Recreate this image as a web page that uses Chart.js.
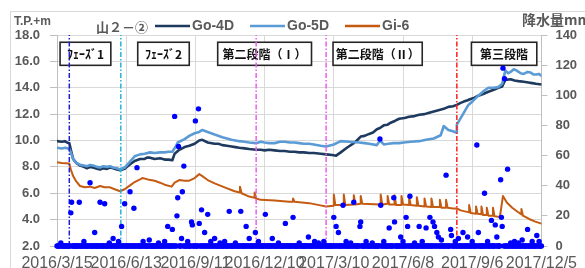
<!DOCTYPE html>
<html><head><meta charset="utf-8">
<script src="https://cdn.jsdelivr.net/npm/chart.js@4"></script>
<style>html,body{margin:0;padding:0;background:#fff;overflow:hidden}</style>
</head><body>
<canvas id="c" width="585" height="268"></canvas>
<script>
// x values are days counted from 2016/3/15
const xTickLabels = ['2016/3/15','2016/6/13','2016/9/11','2016/12/10','2017/3/10','2017/6/8','2017/9/6','2017/12/5'];
const seriesNames = ['Go-4D','Go-5D','Gi-6'];

const go4d = [[0,9.95],[6,9.9],[10,9.95],[13,9.85],[16,9.8],[18,9.3],[21,8.6],[25,8.3],[30,8.1],[35,8.0],[39,7.9],[43,8.0],[47,7.95],[52,7.85],[56,7.8],[60,7.9],[65,7.85],[69,7.95],[73,7.9],[78,7.8],[82,7.75],[88,7.85],[95,8.2],[101,8.45],[108,8.6],[114,8.6],[117,8.7],[121,8.7],[127,8.6],[134,8.65],[140,8.55],[145,8.55],[150,8.5],[153,9.0],[159,9.3],[166,9.5],[172,9.6],[179,9.75],[185,10.0],[189,10.05],[196,9.85],[205,9.75],[210,9.75],[215,9.65],[221,9.6],[227,9.55],[232,9.5],[237,9.45],[244,9.4],[250,9.35],[259,9.3],[265,9.3],[270,9.25],[276,9.3],[283,9.25],[290,9.2],[296,9.2],[303,9.15],[309,9.15],[315,9.1],[321,9.1],[328,9.05],[334,9.05],[343,9.0],[350,8.95],[358,8.9],[363,8.85],[369,9.1],[377,9.45],[386,9.8],[390,10.0],[395,10.3],[400,10.35],[406,10.5],[411,10.6],[416,10.85],[420,10.95],[425,11.15],[430,11.2],[434,11.35],[440,11.5],[445,11.65],[452,11.7],[458,11.8],[465,11.85],[471,11.95],[478,12.0],[484,12.1],[490,12.2],[496,12.3],[503,12.4],[509,12.55],[515,12.6],[520,12.7],[525,12.85],[529,12.95],[534,13.05],[538,13.15],[543,13.25],[548,13.4],[555,13.55],[561,13.7],[568,13.85],[574,14.0],[579,14.1],[583,14.6],[590,14.65],[595,14.55],[600,14.5],[607,14.45],[613,14.4],[618,14.35],[623,14.3],[630,14.25]];

const go5d = [[0,9.45],[6,9.4],[11,9.45],[16,9.35],[18,9.1],[21,8.6],[25,8.3],[30,8.15],[35,8.1],[39,8.05],[43,8.15],[47,8.1],[52,8.0],[56,7.95],[60,8.05],[65,8.0],[69,8.05],[73,7.95],[78,7.9],[82,7.8],[88,7.95],[95,8.4],[101,8.8],[108,8.95],[114,9.0],[121,9.1],[127,9.05],[134,9.1],[140,9.1],[145,9.15],[150,9.15],[154,9.5],[157,9.85],[166,10.1],[172,10.35],[179,10.55],[185,10.65],[189,10.8],[196,10.65],[205,10.45],[215,10.25],[221,10.15],[227,10.05],[237,9.95],[244,9.9],[250,9.85],[259,9.8],[265,9.9],[270,9.85],[276,9.8],[283,9.8],[290,9.9],[296,9.9],[303,9.85],[309,9.85],[315,9.8],[321,9.75],[328,9.75],[334,9.7],[343,9.6],[350,9.55],[360,9.7],[369,9.95],[380,9.9],[393,9.85],[400,9.8],[406,9.75],[416,9.65],[420,10.0],[425,9.7],[431,9.75],[438,9.8],[445,9.8],[451,9.85],[460,9.9],[471,9.95],[480,10.05],[490,10.15],[499,10.4],[503,11.1],[509,10.8],[515,10.7],[519,10.6],[520,11.2],[529,12.1],[535,12.7],[541,13.0],[548,13.4],[555,13.75],[561,14.0],[568,14.0],[574,14.05],[579,14.3],[583,15.3],[587,15.1],[590,15.2],[594,15.4],[598,15.3],[603,15.1],[607,15.05],[612,15.2],[616,15.15],[620,15.0],[623,15.0],[627,15.05],[630,14.9]];

const gi6 = [[0,8.35],[6,8.3],[16,8.25],[18,7.8],[21,7.3],[25,6.9],[30,6.55],[36,6.45],[43,6.5],[49,6.4],[56,6.55],[62,6.45],[69,6.45],[75,6.3],[82,6.15],[88,6.3],[95,6.6],[101,6.85],[108,7.05],[111,7.15],[118,7.05],[127,6.95],[134,6.8],[140,6.65],[149,6.5],[153,6.8],[159,7.0],[166,6.95],[172,6.95],[179,7.15],[185,7.45],[189,7.3],[196,7.0],[205,6.75],[218,6.45],[231,6.15],[238,6.05],[238,6.5],[240,6.0],[250,5.75],[257,5.65],[257,6.05],[259,5.6],[265,5.5],[283,5.45],[302,5.35],[307,5.35],[307,5.6],[309,5.35],[328,5.25],[341,5.1],[350,5.0],[360,5.05],[360,5.9],[362,5.1],[373,5.1],[373,5.9],[375,5.1],[386,5.15],[386,5.85],[388,5.15],[395,5.2],[395,5.8],[397,5.2],[421,5.15],[421,5.9],[423,5.15],[430,5.2],[430,5.8],[432,5.15],[439,5.15],[439,5.85],[441,5.1],[448,5.1],[448,5.8],[450,5.15],[458,5.1],[458,5.7],[460,5.1],[468,5.05],[468,5.7],[470,5.05],[478,5.0],[478,5.6],[480,5.0],[487,4.95],[487,5.6],[489,4.95],[498,4.95],[498,5.5],[500,4.9],[506,4.9],[506,5.5],[508,4.9],[515,4.85],[520,4.85],[525,4.7],[536,4.55],[536,5.1],[538,4.5],[545,4.45],[545,5.0],[547,4.45],[552,4.4],[552,5.0],[554,4.35],[559,4.35],[559,4.9],[561,4.3],[567,4.3],[567,4.9],[569,4.25],[576,4.2],[580,5.8],[585,5.3],[592,4.9],[599,4.6],[604,4.4],[604,4.8],[606,4.3],[614,4.05],[622,3.85],[630,3.7]];

// rain days with measurable precipitation [day, mm]; every other day of the record is 0 mm
const rainEvents = [[5,2],[18,22],[19,29],[29,29],[35,3],[43,42],[49,9],[56,29],[62,28],[68,2],[73,5],[80,3],[84,13],[88,28],[95,36],[100,25],[104,52],[112,3],[120,4],[132,2],[140,3],[144,13],[150,11],[153,86],[156,20],[157,32],[158,66],[162,5],[163,36],[165,53],[170,3],[175,16],[176,14],[180,83],[184,91],[185,15],[188,24],[192,9],[196,21],[200,3],[205,5],[212,2],[218,3],[224,23],[232,2],[239,23],[246,13],[250,5],[258,9],[262,3],[271,21],[280,5],[288,2],[297,15],[307,19],[315,2],[327,6],[335,3],[340,2],[347,3],[360,19],[363,13],[366,9],[372,27],[376,3],[382,2],[386,29],[394,13],[395,16],[402,3],[410,2],[420,71],[421,27],[425,3],[432,12],[438,32],[439,16],[447,6],[450,3],[454,19],[456,13],[459,33],[465,2],[471,13],[475,3],[480,12],[485,19],[489,16],[491,13],[494,9],[496,6],[500,4],[506,47],[512,11],[513,7],[518,3],[522,5],[528,9],[534,6],[540,3],[546,67],[548,9],[556,35],[560,3],[565,17],[570,14],[572,6],[577,44],[578,19],[579,13],[580,118],[582,111],[586,51],[590,2],[595,3],[600,2],[605,4],[612,11],[618,3],[624,7],[627,3]];
const rainFirstDay = 0, rainLastDay = 630;

const markerDays = [16, 83, 259, 350, 520];
const markerColors = ['#1f1fd0', '#22b5d8', '#ee5cee', '#ee5cee', '#ff1f1f'];

const phaseLabels = ['ﾌｪｰｽﾞ1','ﾌｪｰｽﾞ2','第二段階（Ⅰ）','第二段階（Ⅱ）','第三段階'];
const phaseFrom = [4, 105, 209, 359, 539];
const phaseTo = [70, 172, 331, 475, 624];
const phaseTop = 17.45, phaseBottom = 15.7;

const seriesColors = ['#1f3a5f', '#5b9bd5', '#c55a11'];

const toXY = pts => pts.map(p => ({x: p[0], y: p[1]}));
const rainMap = new Map(rainEvents.map(e => [e[0], e[1]]));
const rainDaily = [];
for (let d = rainFirstDay; d <= rainLastDay; d++) rainDaily.push({x: d, y: rainMap.has(d) ? rainMap.get(d) : 0});

const datasets = [
  {label:'降水量', type:'line', data: rainDaily, yAxisID:'y2', showLine:false, pointRadius:2.7, pointBackgroundColor:'#0000ff', pointBorderWidth:0, order:0, legend:false, clip:6},
];
markerDays.forEach((d, i) => datasets.push({label:'m'+i, data:[{x:d,y:2},{x:d,y:18}], yAxisID:'y', borderColor:markerColors[i], borderWidth:1.5, borderDash:[5,2,1.5,2], pointRadius:0, order:1, legend:false}));
[go4d, go5d, gi6].forEach((s, i) => datasets.push({label: seriesNames[i], data: toXY(s), yAxisID:'y', borderColor: seriesColors[i], borderWidth: i===2?2.0:2.6, borderJoinStyle:'round', borderCapStyle:'round', pointRadius:0, tension:0, order: 4 - i, legend:true}));

const grey = '#595959';
const overlay = {
  id:'overlay',
  beforeDraw(chart){
    const ctx = chart.ctx; ctx.save();
    ctx.strokeStyle = '#d9d9d9'; ctx.lineWidth = 1;
    ctx.strokeRect(10.5, 11.5, 700, 400);
    ctx.restore();
  },
  beforeDatasetsDraw(chart){
    const ctx = chart.ctx, xs = chart.scales.x, ys = chart.scales.y;
    ctx.save();
    phaseLabels.forEach((t, i) => {
      const x0 = xs.getPixelForValue(phaseFrom[i]), x1 = xs.getPixelForValue(phaseTo[i]);
      const y0 = ys.getPixelForValue(phaseTop), y1 = ys.getPixelForValue(phaseBottom);
      ctx.fillStyle = '#fff'; ctx.fillRect(x0, y0, x1-x0, y1-y0);
      ctx.strokeStyle = '#262626'; ctx.lineWidth = 1.6; ctx.strokeRect(x0, y0, x1-x0, y1-y0);
      ctx.fillStyle = '#111'; ctx.font = 'bold 12px "Noto Sans CJK JP"';
      ctx.textAlign = 'center'; ctx.textBaseline = 'middle';
      ctx.fillText(t, (x0+x1)/2, (y0+y1)/2 + 0.5);
    });
    ctx.restore();
  },
  afterDraw(chart){
    const ctx = chart.ctx; ctx.save();
    ctx.fillStyle = grey; ctx.textBaseline = 'middle'; ctx.textAlign = 'left';
    ctx.font = 'bold 12px "Liberation Sans"';
    ctx.fillText('T.P.+m', 14, 22);
    ctx.font = 'bold 14px "Noto Sans CJK JP"';
    ctx.fillText('降水量mm', 522, 20);
    ctx.font = 'bold 13px "Noto Sans CJK JP"';
    ctx.fillText('山２－②', 96, 27);
    const legendX = [155, 250, 345];
    chart.data.datasets.filter(d => d.legend).forEach((d, i) => {
      const x = legendX[i];
      ctx.strokeStyle = d.borderColor; ctx.lineWidth = 2.5;
      ctx.beginPath(); ctx.moveTo(x, 26); ctx.lineTo(x+35, 26); ctx.stroke();
      ctx.fillStyle = grey; ctx.font = 'bold 14px "Liberation Sans"';
      ctx.fillText(d.label, x+37, 26);
    });
    ctx.restore();
  }
};

new Chart(document.getElementById('c'), {
  type:'line',
  data:{datasets},
  options:{
    responsive:false, animation:false, devicePixelRatio:1,
    layout:{padding:{top:35, left:0, right:0, bottom:0}},
    plugins:{legend:{display:false}, title:{display:false}, tooltip:{enabled:false}},
    scales:{
      x:{type:'linear', min:0, max:630,
        ticks:{stepSize:90, autoSkip:false, maxRotation:0, minRotation:0, padding:8, color:grey,
          font:{family:'Liberation Sans', size:16},
          callback:v => xTickLabels[Math.round(v/90)] ?? ''},
        grid:{color:'#d9d9d9', drawTicks:false}, border:{display:false},
        afterFit:s => { s.height = 22; }},
      y:{position:'left', min:2, max:18,
        ticks:{stepSize:2, padding:10, color:grey, font:{family:'Liberation Sans', size:13, weight:'bold'}, callback:v => Number(v).toFixed(1)},
        grid:{color:'#d9d9d9', tickLength:7, tickColor:'#bfbfbf'}, border:{display:true, color:'#bfbfbf'},
        afterFit:s => { s.width = 57; }},
      y2:{position:'right', min:0, max:140,
        ticks:{stepSize:20, padding:8, color:grey, font:{family:'Liberation Sans', size:13, weight:'bold'}},
        grid:{drawOnChartArea:false, tickLength:6, color:'#bfbfbf'}, border:{display:true, color:'#bfbfbf'},
        afterFit:s => { s.width = 42; }}
    }
  },
  plugins:[overlay]
});
</script>
</body></html>
